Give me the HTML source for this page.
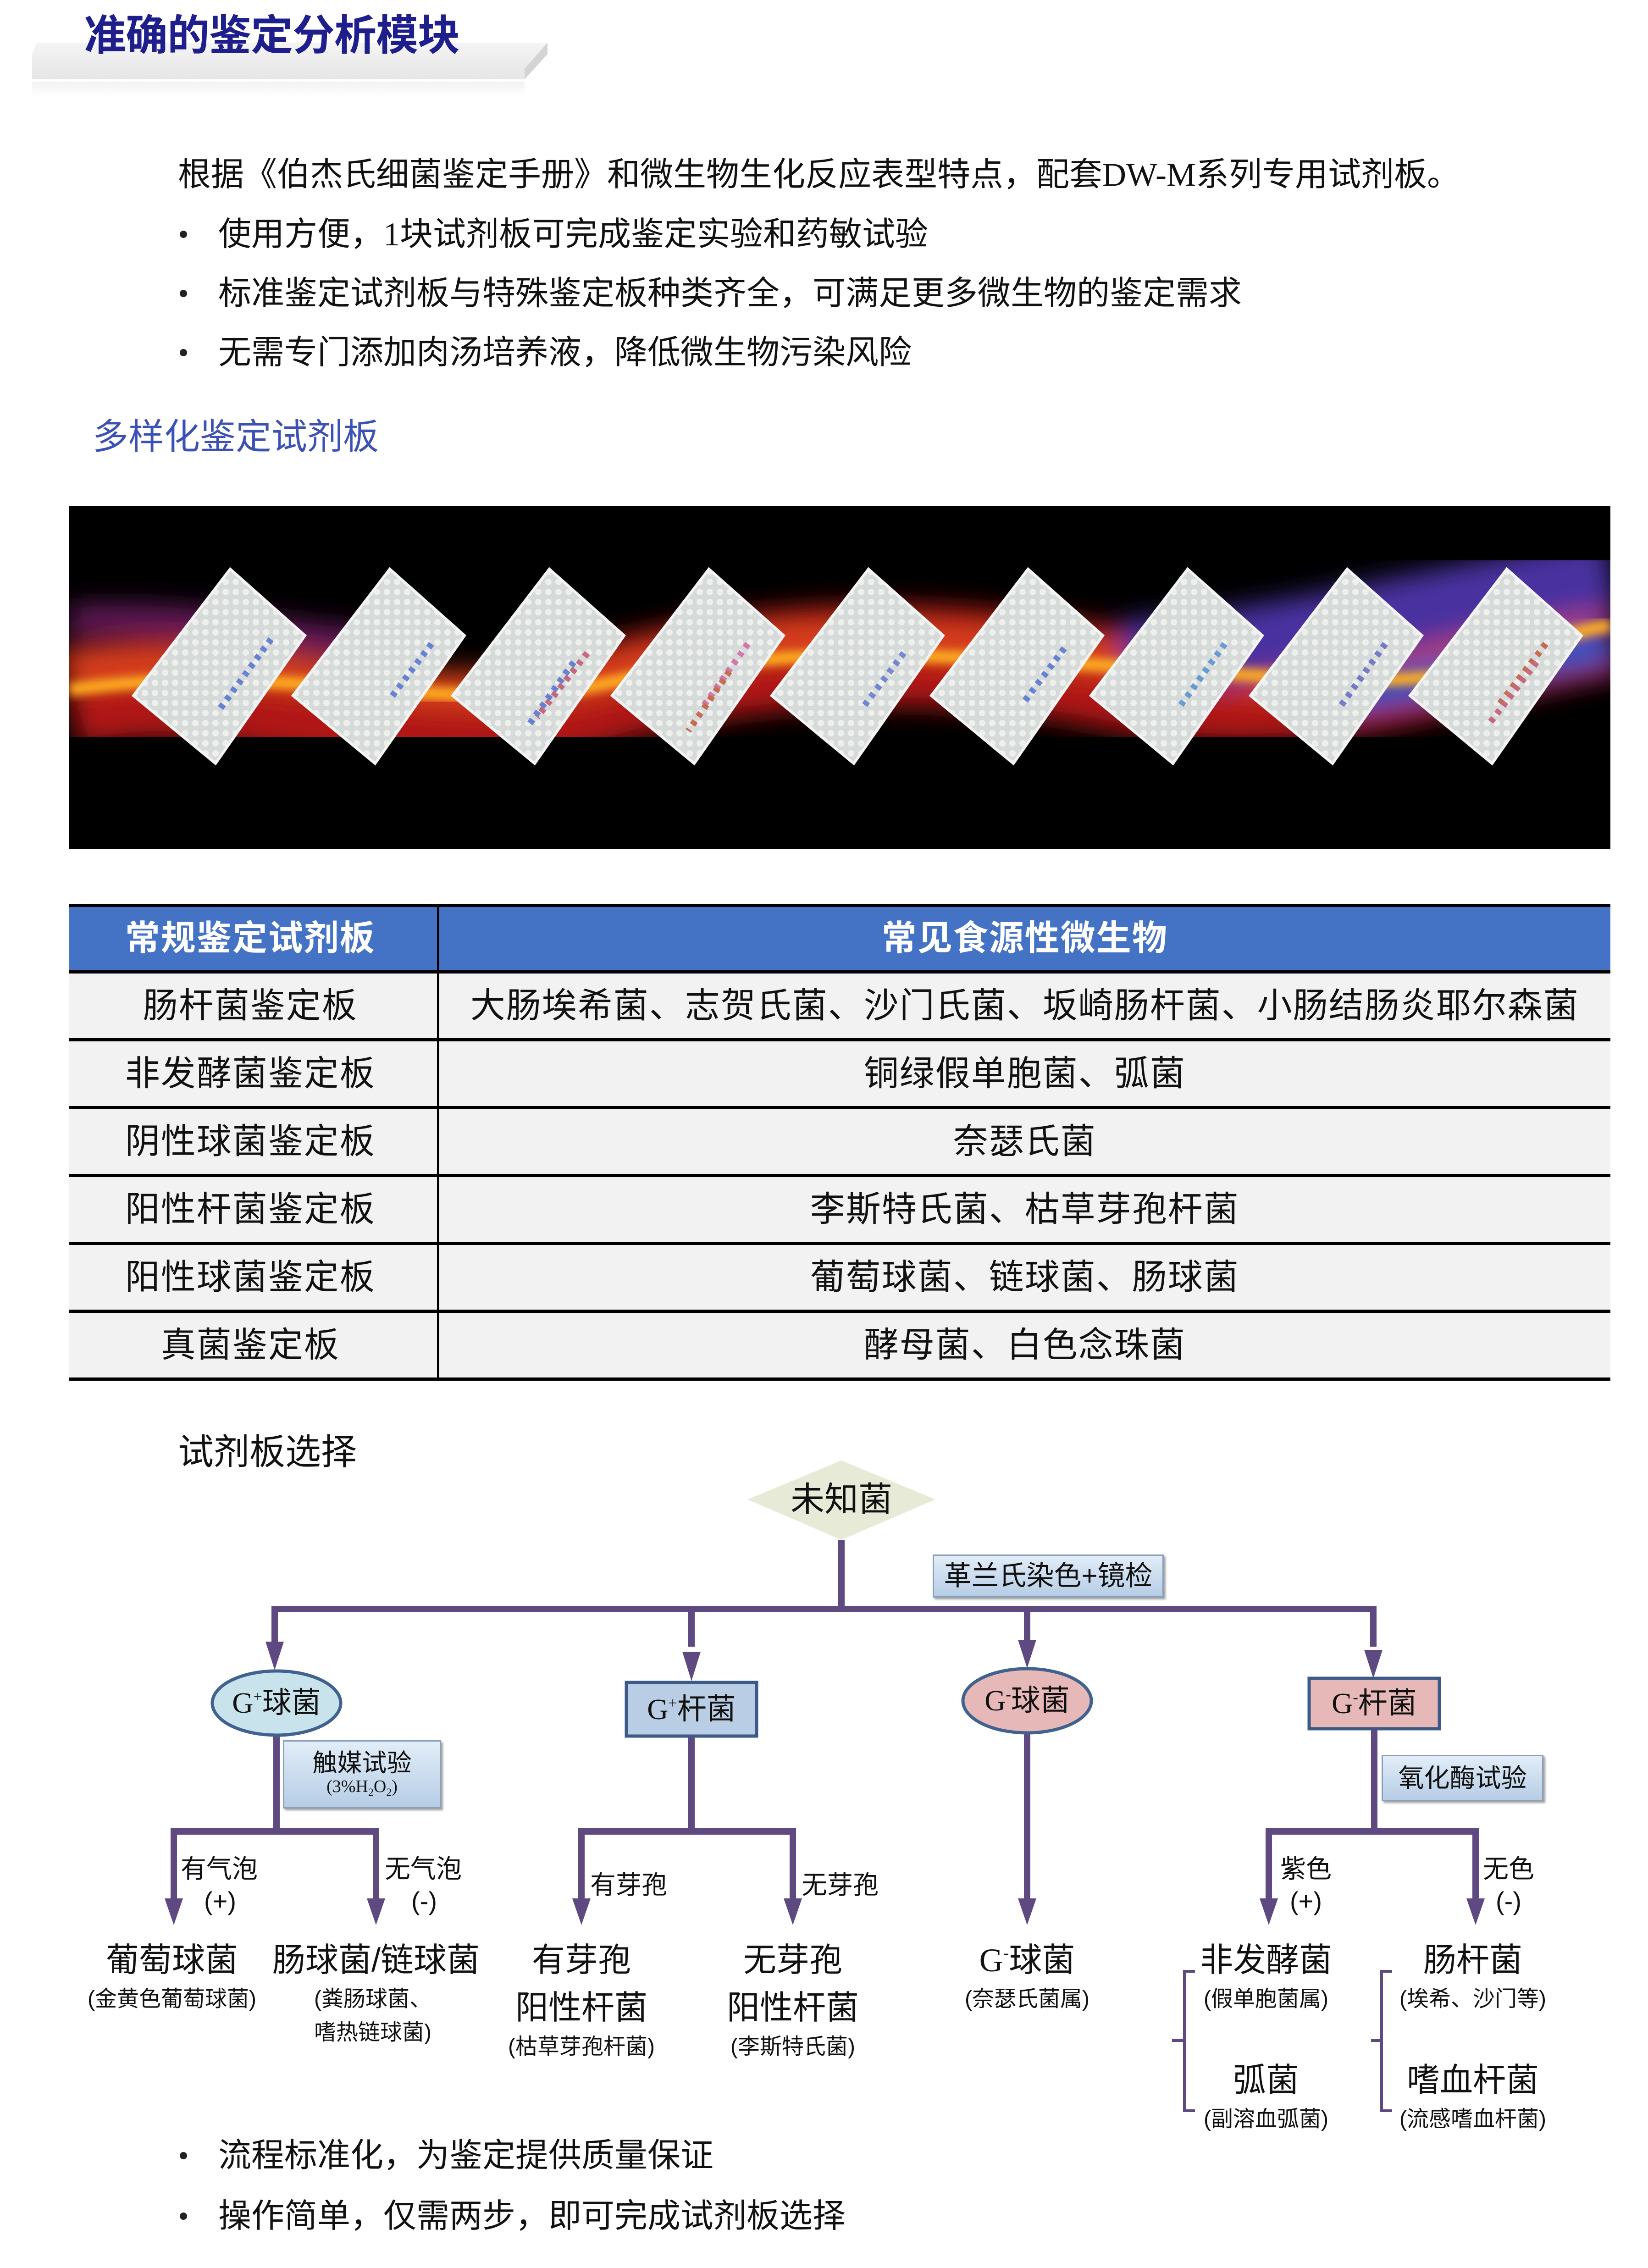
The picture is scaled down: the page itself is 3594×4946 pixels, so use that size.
<!DOCTYPE html>
<html><head><meta charset="utf-8"><style>
*{margin:0;padding:0;box-sizing:border-box}
body{width:3594px;height:4946px;background:#fff;position:relative;overflow:hidden;font-family:"Liberation Sans","Noto Sans CJK SC",sans-serif;color:#111}
.a{position:absolute;white-space:nowrap;line-height:1}
.p{font-size:72px}
.c{transform:translateX(-50%);text-align:center}
.dot{position:absolute;width:16px;height:16px;border-radius:50%;background:#222}
table{position:absolute;left:151px;top:1971px;width:3361px;border-collapse:collapse}
td,th{height:148px;text-align:center;font-size:76px;font-weight:normal;letter-spacing:2px;border-bottom:7px solid #000;background:#f2f2f2;padding-bottom:16px}
th{background:#4472c4;color:#fff;font-weight:bold;height:145px;border-top:7px solid #000}
td:first-child,th:first-child{width:804px;border-right:5px solid #000;padding-right:12px}
.lab{font-size:56px}
.res{font-size:72px}
.sm{font-size:48px}
.box{position:absolute;background:linear-gradient(#e2edf8,#b6cde6);border:3px solid #8a9fb8;box-shadow:4px 4px 4px rgba(0,0,0,.35);display:flex;align-items:center;justify-content:center;flex-direction:column;line-height:1.1}
</style></head><body>

<svg class="a" style="left:0;top:0" width="1300" height="240">
<defs><linearGradient id="bg" x1="0" y1="0" x2="0" y2="1"><stop offset="0" stop-color="#f4f4f4"/><stop offset="1" stop-color="#e6e6e6"/></linearGradient>
<linearGradient id="rf" x1="0" y1="0" x2="0" y2="1"><stop offset="0" stop-color="#f2f2f2"/><stop offset="1" stop-color="#fff"/></linearGradient></defs>
<polygon points="80,93 1194,93 1194,118 1144,173 70,173 70,120" fill="url(#bg)"/>
<polygon points="1144,173 1194,118 1194,93 1144,150" fill="#d4d4d4"/>
<rect x="70" y="178" width="1074" height="35" fill="url(#rf)"/>
</svg>
<div class="a" style="left:183px;top:32px;font-size:92px;font-weight:bold;color:#1e1e8c;letter-spacing:-1px">准确的鉴定分析模块</div>

<div class="a p" style="left:388px;top:345px;font-family:'Liberation Serif','Noto Sans CJK SC',serif">根据《伯杰氏细菌鉴定手册》和微生物生化反应表型特点，配套DW-M系列专用试剂板。</div>
<div class="dot" style="left:392px;top:503px"></div>
<div class="a p" style="left:476px;top:475px;font-family:'Liberation Serif','Noto Sans CJK SC',serif">使用方便，1块试剂板可完成鉴定实验和药敏试验</div>
<div class="dot" style="left:392px;top:632px"></div>
<div class="a p" style="left:476px;top:604px">标准鉴定试剂板与特殊鉴定板种类齐全，可满足更多微生物的鉴定需求</div>
<div class="dot" style="left:392px;top:761px"></div>
<div class="a p" style="left:476px;top:733px">无需专门添加肉汤培养液，降低微生物污染风险</div>
<div class="a" style="left:202px;top:913px;font-size:78px;color:#3b52b4">多样化鉴定试剂板</div>

<svg class="a" style="left:151px;top:1104px" width="3361" height="747">
<defs>
<filter id="bl"><feGaussianBlur stdDeviation="28"/></filter>
<filter id="bl2"><feGaussianBlur stdDeviation="10"/></filter>
<pattern id="wells" width="22" height="22" patternUnits="userSpaceOnUse"><rect width="22" height="22" fill="#d6dad8"/><circle cx="11" cy="11" r="7" fill="#eef0ee"/></pattern>
</defs>
<rect width="3361" height="747" fill="#000"/>
<g filter="url(#bl)">
<path d="M0,420 C400,330 700,560 1100,430 S1900,300 2300,380 S3000,330 3361,260" stroke="#b01818" stroke-width="220" fill="none"/>
<path d="M0,360 C500,300 800,480 1200,360 S2000,300 2500,360 S3100,280 3361,200" stroke="#d8401a" stroke-width="80" fill="none"/>
<path d="M2300,330 C2700,300 3000,200 3361,150" stroke="#4a30a0" stroke-width="160" fill="none"/>
<path d="M2700,420 C3000,380 3200,330 3361,300" stroke="#2a50c0" stroke-width="90" fill="none"/>
<path d="M0,250 C300,230 500,300 700,300" stroke="#6a1a60" stroke-width="60" fill="none"/>
</g>
<g filter="url(#bl2)">
<path d="M0,400 C500,330 800,470 1200,380 S2000,330 2600,370 S3100,300 3361,260" stroke="#ffb020" stroke-width="28" fill="none"/>
</g>
<g stroke="#f4f4f4" stroke-width="6" fill="url(#wells)">
<polygon points="351,137 514,282 319,561 140,413"/>
<polygon points="699,137 862,282 667,561 488,413"/>
<polygon points="1047,137 1210,282 1015,561 836,413"/>
<polygon points="1395,137 1558,282 1363,561 1184,413"/>
<polygon points="1743,137 1906,282 1711,561 1532,413"/>
<polygon points="2091,137 2254,282 2059,561 1880,413"/>
<polygon points="2439,137 2602,282 2407,561 2228,413"/>
<polygon points="2787,137 2950,282 2755,561 2576,413"/>
<polygon points="3135,137 3298,282 3103,561 2924,413"/>
</g>
<g fill="none" stroke-width="14" stroke-dasharray="10 12" opacity=".8">
<path d="M440,290 L330,440" stroke="#4a6ad0"/><path d="M790,300 L700,420" stroke="#4a6ad0"/>
<path d="M1130,320 L1020,460" stroke="#c04a6a"/><path d="M1100,340 L1000,480" stroke="#4a6ad0"/>
<path d="M1480,300 L1380,440" stroke="#d060a0"/><path d="M1440,360 L1350,490" stroke="#c05030"/>
<path d="M1820,320 L1730,440" stroke="#5a70d0"/><path d="M2170,310 L2080,430" stroke="#4a6ad0"/>
<path d="M2520,300 L2420,440" stroke="#4a8ad0"/><path d="M2870,300 L2770,440" stroke="#5a60c0"/>
<path d="M3220,300 L3120,430" stroke="#c05030"/><path d="M3200,340 L3100,470" stroke="#c04a6a"/>
</g>
</svg>

<table>
<tr><th>常规鉴定试剂板</th><th>常见食源性微生物</th></tr>
<tr><td>肠杆菌鉴定板</td><td>大肠埃希菌、志贺氏菌、沙门氏菌、坂崎肠杆菌、小肠结肠炎耶尔森菌</td></tr>
<tr><td>非发酵菌鉴定板</td><td>铜绿假单胞菌、弧菌</td></tr>
<tr><td>阴性球菌鉴定板</td><td>奈瑟氏菌</td></tr>
<tr><td>阳性杆菌鉴定板</td><td>李斯特氏菌、枯草芽孢杆菌</td></tr>
<tr><td>阳性球菌鉴定板</td><td>葡萄球菌、链球菌、肠球菌</td></tr>
<tr><td>真菌鉴定板</td><td>酵母菌、白色念珠菌</td></tr>
</table>

<div class="a" style="left:388px;top:3127px;font-size:78px">试剂板选择</div>

<svg class="a" style="left:0;top:3150px" width="3594" height="1600">
<polygon points="1835,35 2040,120 1835,208 1630,120" fill="#e6ead6"/>
<g stroke="#5e4a80" stroke-width="14" fill="none">
<path d="M1835,208 V366"/>
<path d="M599,441 V359 H2995 V441"/>
<path d="M1508,359 V441"/><path d="M2240,359 V441"/>
<path d="M603,636 V844"/><path d="M379,995 V844 H820 V995"/>
<path d="M1508,636 V844"/><path d="M1268,995 V844 H1729 V995"/>
<path d="M2240,630 V995"/>
<path d="M2997,620 V844"/><path d="M2767,995 V844 H3218 V995"/>
</g>
<g fill="#5e4a80">
<polygon points="579,430 619,430 599,492"/>
<polygon points="1488,452 1528,452 1508,516"/>
<polygon points="2220,426 2260,426 2240,488"/>
<polygon points="2975,448 3015,448 2995,510"/>
<polygon points="359,990 399,990 379,1048"/><polygon points="800,990 840,990 820,1048"/>
<polygon points="1248,990 1288,990 1268,1048"/><polygon points="1709,990 1749,990 1729,1048"/>
<polygon points="2220,990 2260,990 2240,1048"/>
<polygon points="2747,990 2787,990 2767,1048"/><polygon points="3198,990 3238,990 3218,1048"/>
</g>
<ellipse cx="603" cy="564" rx="140" ry="70" fill="#c9e3ec" stroke="#41628f" stroke-width="7"/>
<rect x="1366" y="519" width="284" height="117" fill="#b9cde5" stroke="#3d5a86" stroke-width="7"/>
<ellipse cx="2240" cy="559" rx="140" ry="70" fill="#e6b9b8" stroke="#41628f" stroke-width="7"/>
<rect x="2855" y="510" width="284" height="110" fill="#e6b9b8" stroke="#3d5a86" stroke-width="7"/>
<g stroke="#5e4a80" stroke-width="6" fill="none">
<path d="M2606,1149 H2583 V1453 H2606 M2583,1300 H2556"/>
<path d="M3036,1149 H3013 V1453 H3036 M3013,1300 H2990"/>
</g>
</svg>

<div class="a c" style="left:1835px;top:3233px;font-size:74px">未知菌</div>
<div class="box" style="left:2034px;top:3390px;width:504px;height:94px;font-size:60px">革兰氏染色+镜检</div>

<div class="a c" style="left:603px;top:3682px;font-size:64px;font-family:'Liberation Serif','Noto Sans CJK SC',serif">G<sup style="font-size:34px;vertical-align:24px">+</sup>球菌</div>
<div class="a c" style="left:1508px;top:3696px;font-size:64px;font-family:'Liberation Serif','Noto Sans CJK SC',serif">G<sup style="font-size:34px;vertical-align:24px">+</sup>杆菌</div>
<div class="a c" style="left:2240px;top:3677px;font-size:64px;font-family:'Liberation Serif','Noto Sans CJK SC',serif">G<sup style="font-size:34px;vertical-align:24px">-</sup>球菌</div>
<div class="a c" style="left:2997px;top:3683px;font-size:64px;font-family:'Liberation Serif','Noto Sans CJK SC',serif">G<sup style="font-size:34px;vertical-align:24px">-</sup>杆菌</div>

<div class="box" style="left:617px;top:3795px;width:345px;height:149px"><div style="font-size:54px">触媒试验</div><div style="font-size:38px;font-family:'Liberation Serif',serif">(3%H<sub style="font-size:24px">2</sub>O<sub style="font-size:24px">2</sub>)</div></div>
<div class="box" style="left:3013px;top:3827px;width:353px;height:101px;font-size:56px">氧化酶试验</div>

<div class="a lab" style="left:394px;top:4048px">有气泡</div>
<div class="a lab c" style="left:480px;top:4118px">(+)</div>
<div class="a lab" style="left:839px;top:4048px">无气泡</div>
<div class="a lab c" style="left:925px;top:4118px">(-)</div>
<div class="a lab" style="left:1287px;top:4083px">有芽孢</div>
<div class="a lab" style="left:1748px;top:4083px">无芽孢</div>
<div class="a lab" style="left:2792px;top:4048px">紫色</div>
<div class="a lab c" style="left:2848px;top:4118px">(+)</div>
<div class="a lab" style="left:3234px;top:4048px">无色</div>
<div class="a lab c" style="left:3290px;top:4118px">(-)</div>

<div class="a res c" style="left:375px;top:4239px">葡萄球菌</div>
<div class="a sm c" style="left:375px;top:4336px">(金黄色葡萄球菌)</div>
<div class="a res c" style="left:820px;top:4239px">肠球菌/链球菌</div>
<div class="a sm" style="left:685px;top:4336px">(粪肠球菌、</div>
<div class="a sm" style="left:685px;top:4409px">嗜热链球菌)</div>
<div class="a res c" style="left:1268px;top:4239px">有芽孢</div>
<div class="a res c" style="left:1268px;top:4343px">阳性杆菌</div>
<div class="a sm c" style="left:1268px;top:4440px">(枯草芽孢杆菌)</div>
<div class="a res c" style="left:1729px;top:4239px">无芽孢</div>
<div class="a res c" style="left:1729px;top:4343px">阳性杆菌</div>
<div class="a sm c" style="left:1729px;top:4440px">(李斯特氏菌)</div>
<div class="a res c" style="left:2240px;top:4239px;font-family:'Liberation Serif','Noto Sans CJK SC',serif">G<sup style="font-size:38px;vertical-align:28px">-</sup>球菌</div>
<div class="a sm c" style="left:2240px;top:4336px">(奈瑟氏菌属)</div>
<div class="a res c" style="left:2761px;top:4239px">非发酵菌</div>
<div class="a sm c" style="left:2761px;top:4336px">(假单胞菌属)</div>
<div class="a res c" style="left:2761px;top:4501px">弧菌</div>
<div class="a sm c" style="left:2761px;top:4598px">(副溶血弧菌)</div>
<div class="a res c" style="left:3212px;top:4239px">肠杆菌</div>
<div class="a sm c" style="left:3212px;top:4336px">(埃希、沙门等)</div>
<div class="a res c" style="left:3212px;top:4501px">嗜血杆菌</div>
<div class="a sm c" style="left:3212px;top:4598px">(流感嗜血杆菌)</div>

<div class="dot" style="left:392px;top:4693px"></div>
<div class="a p" style="left:476px;top:4665px">流程标准化，为鉴定提供质量保证</div>
<div class="dot" style="left:392px;top:4825px"></div>
<div class="a p" style="left:476px;top:4797px">操作简单，仅需两步，即可完成试剂板选择</div>
</body></html>
